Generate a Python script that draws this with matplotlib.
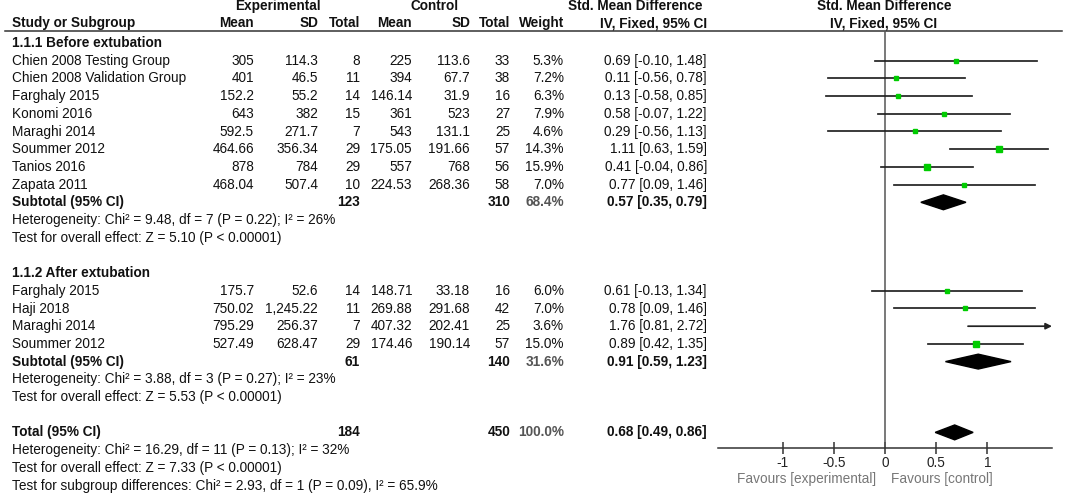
import matplotlib
matplotlib.use("Agg")
import matplotlib.pyplot as plt
from matplotlib.patches import Polygon

plt.rcParams['font.family'] = ['Liberation Sans', 'DejaVu Sans']

# data
studies1 = ["Chien 2008 Testing Group", "Chien 2008 Validation Group", "Farghaly 2015", "Konomi 2016",
            "Maraghi 2014", "Soummer 2012", "Tanios 2016", "Zapata 2011"]
exp_mean1 = ["305", "401", "152.2", "643", "592.5", "464.66", "878", "468.04"]
exp_sd1 = ["114.3", "46.5", "55.2", "382", "271.7", "356.34", "784", "507.4"]
exp_n1 = [8, 11, 14, 15, 7, 29, 29, 10]
ctl_mean1 = ["225", "394", "146.14", "361", "543", "175.05", "557", "224.53"]
ctl_sd1 = ["113.6", "67.7", "31.9", "523", "131.1", "191.66", "768", "268.36"]
ctl_n1 = [33, 38, 16, 27, 25, 57, 56, 58]
weight1 = [5.3, 7.2, 6.3, 7.9, 4.6, 14.3, 15.9, 7.0]
smd1 = [0.69, 0.11, 0.13, 0.58, 0.29, 1.11, 0.41, 0.77]
lo1 = [-0.10, -0.56, -0.58, -0.07, -0.56, 0.63, -0.04, 0.09]
hi1 = [1.48, 0.78, 0.85, 1.22, 1.13, 1.59, 0.86, 1.46]

studies2 = ["Farghaly 2015", "Haji 2018", "Maraghi 2014", "Soummer 2012"]
exp_mean2 = ["175.7", "750.02", "795.29", "527.49"]
exp_sd2 = ["52.6", "1,245.22", "256.37", "628.47"]
exp_n2 = [14, 11, 7, 29]
ctl_mean2 = ["148.71", "269.88", "407.32", "174.46"]
ctl_sd2 = ["33.18", "291.68", "202.41", "190.14"]
ctl_n2 = [16, 42, 25, 57]
weight2 = [6.0, 7.0, 3.6, 15.0]
smd2 = [0.61, 0.78, 1.76, 0.89]
lo2 = [-0.13, 0.09, 0.81, 0.42]
hi2 = [1.34, 1.46, 2.72, 1.35]

# pooled results: (exp total, ctl total, weight, smd, lo, hi)
sub1 = (123, 310, 68.4, 0.57, 0.35, 0.79)
sub2 = (61, 140, 31.6, 0.91, 0.59, 1.23)
total = (184, 450, 100.0, 0.68, 0.49, 0.86)

het1 = "Heterogeneity: Chi\u00b2 = 9.48, df = 7 (P = 0.22); I\u00b2 = 26%"
eff1 = "Test for overall effect: Z = 5.10 (P < 0.00001)"
het2 = "Heterogeneity: Chi\u00b2 = 3.88, df = 3 (P = 0.27); I\u00b2 = 23%"
eff2 = "Test for overall effect: Z = 5.53 (P < 0.00001)"
het_t = "Heterogeneity: Chi\u00b2 = 16.29, df = 11 (P = 0.13); I\u00b2 = 32%"
eff_t = "Test for overall effect: Z = 7.33 (P < 0.00001)"
sub_diff = "Test for subgroup differences: Chi\u00b2 = 2.93, df = 1 (P = 0.09), I\u00b2 = 65.9%"

ticks = [-1, -0.5, 0, 0.5, 1]
tick_labels = ["-1", "-0.5", "0", "0.5", "1"]

# layout (pixels)
W, H = 1065, 494
ROW0, STEP = 43, 17.7
def row(px):
    return (px - ROW0) / STEP

FS = 9.8
X_NAME = 12
X_EMEAN, X_ESD, X_EN = 254, 318, 360
X_CMEAN, X_CSD, X_CN = 412, 470, 510
X_W, X_CI = 564, 707
PLOT_L, PLOT_R, PLOT_T, PLOT_B = 718, 1052, 31, 448
XMIN, XMAX = -1.63, 1.63
LW = 1.25

fig = plt.figure(figsize=(W / 100, H / 100), dpi=100)
tx = fig.add_axes([0, 0, 1, 1])
tx.set_xlim(0, W)
tx.set_ylim(row(H), row(0))
tx.axis('off')

def t(x, y, s, ha='left', bold=False, color='#111111', size=FS):
    tx.text(x, y, s, ha=ha, va='center', fontsize=size,
            fontweight='bold' if bold else 'normal', color=color)

# headers
t(278, row(6), "Experimental", ha='center', bold=True)
t(435, row(6), "Control", ha='center', bold=True)
t(702, row(6), "Std. Mean Difference", ha='right', bold=True)
t(884, row(6), "Std. Mean Difference", ha='center', bold=True)
hy = row(23)
t(X_NAME, hy, "Study or Subgroup", bold=True)
for x, s in [(X_EMEAN, "Mean"), (X_ESD, "SD"), (X_EN, "Total"), (X_CMEAN, "Mean"),
             (X_CSD, "SD"), (X_CN, "Total"), (X_W, "Weight"), (X_CI, "IV, Fixed, 95% CI")]:
    t(x, hy, s, ha='right', bold=True)
t(884, hy, "IV, Fixed, 95% CI", ha='center', bold=True)
tx.plot([5, W - 3], [row(31), row(31)], color='#333333', lw=1.1)

# forest axes
fx = fig.add_axes([PLOT_L / W, 1 - PLOT_B / H, (PLOT_R - PLOT_L) / W, (PLOT_B - PLOT_T) / H])
fx.set_xlim(XMIN, XMAX)
fx.set_ylim(row(PLOT_B), row(PLOT_T))
fx.patch.set_alpha(0)
for s in ['left', 'right', 'top']:
    fx.spines[s].set_visible(False)
fx.spines['bottom'].set_color('#333333')
fx.spines['bottom'].set_linewidth(1.1)
fx.set_yticks([])
fx.set_xticks(ticks)
fx.set_xticklabels(tick_labels, fontsize=FS, color='#222222')
fx.tick_params(axis='x', direction='inout', length=9, width=1.1, color='#333333', pad=1)
fx.axvline(0, color='#555555', lw=1.1)

def study_rows(start, names, em, esd, en, cm, csd, cn, w, smd, lo, hi):
    for i in range(len(names)):
        y = start + i
        t(X_NAME, y, names[i])
        t(X_EMEAN, y, em[i], ha='right')
        t(X_ESD, y, esd[i], ha='right')
        t(X_EN, y, str(en[i]), ha='right')
        t(X_CMEAN, y, cm[i], ha='right')
        t(X_CSD, y, csd[i], ha='right')
        t(X_CN, y, str(cn[i]), ha='right')
        t(X_W, y, f"{w[i]:.1f}%", ha='right')
        t(X_CI, y, f"{smd[i]:.2f} [{lo[i]:.2f}, {hi[i]:.2f}]", ha='right')
        if hi[i] > XMAX:
            fx.annotate("", xy=(XMAX, y), xytext=(lo[i], y),
                        arrowprops=dict(arrowstyle='-|>', color='#222222', lw=LW,
                                        mutation_scale=9, shrinkA=0, shrinkB=0))
        else:
            fx.plot([lo[i], hi[i]], [y, y], color='#222222', lw=LW)
        fx.plot(smd[i], y, 's', color='#00cc00', ms=1.4 + 0.19 * w[i], mec='#00cc00')

def pooled_row(y, label, res):
    en, cn, w, smd, lo, hi = res
    t(X_NAME, y, label, bold=True)
    t(X_EN, y, str(en), ha='right', bold=True)
    t(X_CN, y, str(cn), ha='right', bold=True)
    t(X_W, y, f"{w:.1f}%", ha='right', bold=True, color='#555555')
    t(X_CI, y, f"{smd:.2f} [{lo:.2f}, {hi:.2f}]", ha='right', bold=True)
    hh = 0.42
    fx.add_patch(Polygon([(lo, y), (smd, y - hh), (hi, y), (smd, y + hh)],
                         closed=True, color='black'))

t(X_NAME, 0, "1.1.1 Before extubation", bold=True)
study_rows(1, studies1, exp_mean1, exp_sd1, exp_n1, ctl_mean1, ctl_sd1, ctl_n1, weight1, smd1, lo1, hi1)
pooled_row(9, "Subtotal (95% CI)", sub1)
t(X_NAME, 10, het1)
t(X_NAME, 11, eff1)

t(X_NAME, 13, "1.1.2 After extubation", bold=True)
study_rows(14, studies2, exp_mean2, exp_sd2, exp_n2, ctl_mean2, ctl_sd2, ctl_n2, weight2, smd2, lo2, hi2)
pooled_row(18, "Subtotal (95% CI)", sub2)
t(X_NAME, 19, het2)
t(X_NAME, 20, eff2)

pooled_row(22, "Total (95% CI)", total)
t(X_NAME, 23, het_t)
t(X_NAME, 24, eff_t)
t(X_NAME, 25, sub_diff)

t(876, row(479), "Favours [experimental]", ha='right', color='#777777')
t(891, row(479), "Favours [control]", color='#777777')

fig.savefig("out.png", dpi=100)
